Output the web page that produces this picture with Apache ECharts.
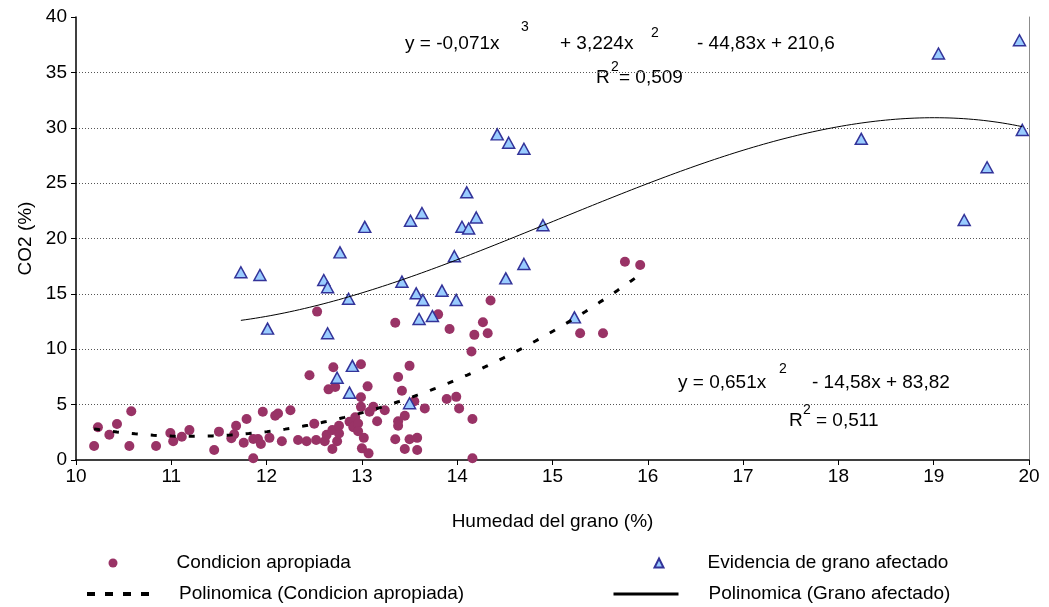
<!DOCTYPE html>
<html>
<head>
<meta charset="utf-8">
<script src="https://cdn.jsdelivr.net/npm/echarts@6/dist/echarts.min.js"></script>
<style>
  html, body { margin: 0; padding: 0; background: #ffffff; }
  #chart { width: 1049px; height: 607px; }
</style>
</head>
<body>
<div id="chart"></div>
<script>
// Humedad del grano (%) vs CO2 (%), one [humedad, co2] pair per sample
const condicionApropiada = [
  [10.19, 1.26], [10.23, 2.95], [10.35, 2.28], [10.43, 3.25], [10.56, 1.26], [10.58, 4.4],
  [10.84, 1.26], [10.99, 2.44], [11.02, 1.7], [11.11, 2.1], [11.19, 2.7], [11.45, 0.9],
  [11.5, 2.56], [11.63, 1.96], [11.66, 2.32], [11.68, 3.1], [11.76, 1.56], [11.79, 3.7],
  [11.86, 0.15], [11.86, 1.9], [11.91, 1.9], [11.94, 1.44], [11.96, 4.36], [12.03, 2.0],
  [12.09, 4.0], [12.12, 4.2], [12.16, 1.7], [12.25, 4.5], [12.33, 1.8], [12.42, 1.7],
  [12.45, 7.65], [12.5, 3.28], [12.52, 1.8], [12.53, 13.4], [12.61, 1.7], [12.63, 2.28],
  [12.65, 6.38], [12.69, 1.0], [12.69, 2.7], [12.7, 8.37], [12.72, 6.6], [12.74, 1.7],
  [12.76, 2.4], [12.76, 3.1], [12.87, 3.46], [12.91, 2.95], [12.93, 3.85], [12.96, 3.3],
  [12.96, 2.6], [12.99, 8.64], [12.99, 5.66], [12.99, 4.8], [13.0, 1.05], [13.02, 2.0],
  [13.06, 6.65], [13.07, 0.6], [13.08, 4.36], [13.12, 4.8], [13.16, 3.5], [13.24, 4.5],
  [13.35, 12.4], [13.35, 1.87], [13.38, 7.5], [13.38, 3.5], [13.38, 3.1], [13.42, 6.26],
  [13.45, 4.0], [13.45, 1.0], [13.5, 8.5], [13.5, 1.87], [13.55, 5.3], [13.58, 2.0],
  [13.58, 0.9], [13.66, 4.66], [13.8, 13.15], [13.89, 5.5], [13.92, 11.83], [13.99, 5.7],
  [14.02, 4.66], [14.15, 9.8], [14.16, 3.7], [14.16, 0.15], [14.18, 11.3], [14.27, 12.43],
  [14.32, 11.44], [14.35, 14.4], [15.29, 11.44], [15.53, 11.44], [15.76, 17.9], [15.92, 17.6]
];

const granoAfectado = [
  [11.73, 16.95], [11.93, 16.7], [12.01, 11.86], [12.6, 16.25], [12.64, 15.6], [12.64, 11.44],
  [12.74, 7.43], [12.77, 18.75], [12.86, 14.56], [12.87, 6.08], [12.9, 8.5], [13.03, 21.05],
  [13.42, 16.1], [13.5, 5.12], [13.51, 21.6], [13.57, 15.05], [13.6, 12.73], [13.63, 22.3],
  [13.64, 14.45], [13.74, 13.0], [13.84, 15.29], [13.97, 18.4], [13.99, 14.45], [14.05, 21.06],
  [14.1, 24.17], [14.12, 20.9], [14.2, 21.9], [14.42, 29.4], [14.51, 16.4], [14.54, 28.65],
  [14.7, 28.1], [14.7, 17.7], [14.9, 21.2], [15.23, 12.88], [18.24, 29.0], [19.05, 36.7],
  [19.32, 21.67], [19.56, 26.43], [19.9, 37.9], [19.93, 29.8]
];

// Axis ticks
const xTicks = [10, 11, 12, 13, 14, 15, 16, 17, 18, 19, 20];
const yTicks = [0, 5, 10, 15, 20, 25, 30, 35, 40];

const FONT = '"Liberation Sans", Arial, Helvetica, sans-serif';

// Least-squares polynomial fit (normal equations, Gauss-Jordan elimination)
function polyfit(points, degree) {
  const n = degree + 1;
  const A = Array.from({ length: n }, () => new Array(n + 1).fill(0));
  points.forEach(([x, y]) => {
    const p = [];
    for (let i = 0; i < n; i++) p.push(Math.pow(x, i));
    for (let i = 0; i < n; i++) {
      for (let j = 0; j < n; j++) A[i][j] += p[i] * p[j];
      A[i][n] += p[i] * y;
    }
  });
  for (let c = 0; c < n; c++) {
    let piv = c;
    for (let r = c + 1; r < n; r++) if (Math.abs(A[r][c]) > Math.abs(A[piv][c])) piv = r;
    [A[c], A[piv]] = [A[piv], A[c]];
    for (let r = 0; r < n; r++) {
      if (r === c) continue;
      const f = A[r][c] / A[c][c];
      for (let j = c; j <= n; j++) A[r][j] -= f * A[c][j];
    }
  }
  return A.map((row, i) => row[n] / row[i]);
}

function trendCurve(points, degree, steps) {
  const coef = polyfit(points, degree);
  const xs = points.map(p => p[0]);
  const lo = Math.min(...xs), hi = Math.max(...xs);
  const out = [];
  for (let i = 0; i <= steps; i++) {
    const x = lo + (hi - lo) * i / steps;
    let y = 0;
    for (let k = coef.length - 1; k >= 0; k--) y = y * x + coef[k];
    out.push([x, y]);
  }
  return out;
}

const curvaCondicion = trendCurve(condicionApropiada, 2, 120);
const curvaAfectado = trendCurve(granoAfectado, 3, 160);

function txt(x, y, text, size) {
  return {
    type: 'text', x: x, y: y, silent: true,
    style: { text: text, fill: '#000', font: size + 'px ' + FONT, align: 'left', verticalAlign: 'middle' }
  };
}

// One legend block per entry so each sits where it belongs in the 2x2 key
function legendEntry(name, left, top, iconWidth, textPad, extra) {
  return Object.assign({
    orient: 'horizontal', padding: 0, left: left, top: top,
    itemWidth: iconWidth, itemHeight: 9, itemGap: 0,
    selectedMode: false,
    data: [name],
    textStyle: {
      fontFamily: FONT, fontSize: 19, color: '#000', lineHeight: 22,
      padding: [0, 0, 0, textPad]
    }
  }, extra || {});
}

const chart = echarts.init(document.getElementById('chart'), null, { renderer: 'canvas' });

chart.setOption({
  animation: false,
  backgroundColor: '#ffffff',
  grid: { left: 76, right: 20, top: 17, bottom: 147, containLabel: false },
  xAxis: {
    type: 'value',
    min: xTicks[0], max: xTicks[xTicks.length - 1], interval: xTicks[1] - xTicks[0],
    name: 'Humedad del grano (%)',
    nameLocation: 'middle', nameGap: 52,
    nameTextStyle: { fontFamily: FONT, fontSize: 19, color: '#000' },
    axisLine: { show: true, onZero: false, lineStyle: { color: '#000', width: 1.5 } },
    axisTick: { show: true, inside: false, length: 5, lineStyle: { color: '#000', width: 1 } },
    axisLabel: { fontFamily: FONT, fontSize: 19, color: '#000', margin: 7 },
    splitLine: { show: false }
  },
  yAxis: [{
    type: 'value',
    min: yTicks[0], max: yTicks[yTicks.length - 1], interval: yTicks[1] - yTicks[0],
    name: 'CO2 (%)',
    nameLocation: 'middle', nameGap: 40, nameRotate: 90,
    nameTextStyle: { fontFamily: FONT, fontSize: 19, color: '#000' },
    axisLine: { show: true, onZero: false, lineStyle: { color: '#000', width: 1.5 } },
    axisTick: { show: true, inside: false, length: 5, lineStyle: { color: '#000', width: 1 } },
    axisLabel: { fontFamily: FONT, fontSize: 19, color: '#000', margin: 9 },
    splitLine: {
      show: true, showMinLine: false, showMaxLine: false,
      lineStyle: { color: '#555', width: 1, type: [1, 2] }
    }
  }, {
    type: 'value', position: 'right',
    min: yTicks[0], max: yTicks[yTicks.length - 1], interval: yTicks[1] - yTicks[0],
    axisLine: { show: true, onZero: false, lineStyle: { color: '#8c8c8c', width: 1 } },
    axisTick: { show: false }, axisLabel: { show: false }, splitLine: { show: false }
  }],
  legend: [
    legendEntry('Condicion apropiada', 108.5, 552, 9, 54),
    legendEntry('Evidencia de grano afectado', 653.5, 552, 9, 39),
    legendEntry('Polinomica (Condicion apropiada)', 85, 583, 63, 24, {
      itemStyle: { opacity: 0 },
      lineStyle: { width: 4, type: [8, 10], color: '#000' }
    }),
    legendEntry('Polinomica (Grano afectado)', 612, 583, 65, 25, {
      itemStyle: { opacity: 0 },
      lineStyle: { width: 3, color: '#000' }
    })
  ],
  graphic: [
    // cubic trend equation
    txt(405, 44, 'y = -0,071x', 19),
    txt(521, 27, '3', 14),
    txt(560, 44, '+ 3,224x', 19),
    txt(651, 33, '2', 14),
    txt(697, 44, '- 44,83x + 210,6', 19),
    txt(596, 78, 'R', 19),
    txt(611, 67, '2', 14),
    txt(619, 78, '= 0,509', 19),
    // quadratic trend equation
    txt(678, 383, 'y = 0,651x', 19),
    txt(779, 369, '2', 14),
    txt(812, 383, '- 14,58x + 83,82', 19),
    txt(789, 421, 'R', 19),
    txt(803, 410, '2', 14),
    txt(816, 421, '= 0,511', 19)
  ],
  series: [
    {
      name: 'Condicion apropiada', type: 'scatter', z: 2,
      symbol: 'circle', symbolSize: 10,
      itemStyle: { color: '#993366', opacity: 1 },
      data: condicionApropiada
    },
    {
      name: 'Evidencia de grano afectado', type: 'scatter', z: 3,
      symbol: 'triangle', symbolSize: [12, 11],
      itemStyle: { color: '#99ccff', borderColor: '#333399', borderWidth: 1.5, opacity: 1 },
      data: granoAfectado
    },
    {
      name: 'Polinomica (Condicion apropiada)', type: 'line', z: 4,
      symbol: 'none', showSymbol: false, silent: true,
      lineStyle: { color: '#000', width: 3, type: [6, 13] },
      itemStyle: { color: '#000' },
      data: curvaCondicion
    },
    {
      name: 'Polinomica (Grano afectado)', type: 'line', z: 4,
      symbol: 'none', showSymbol: false, silent: true,
      lineStyle: { color: '#000', width: 1 },
      itemStyle: { color: '#000' },
      data: curvaAfectado
    }
  ]
});
</script>
</body>
</html>
